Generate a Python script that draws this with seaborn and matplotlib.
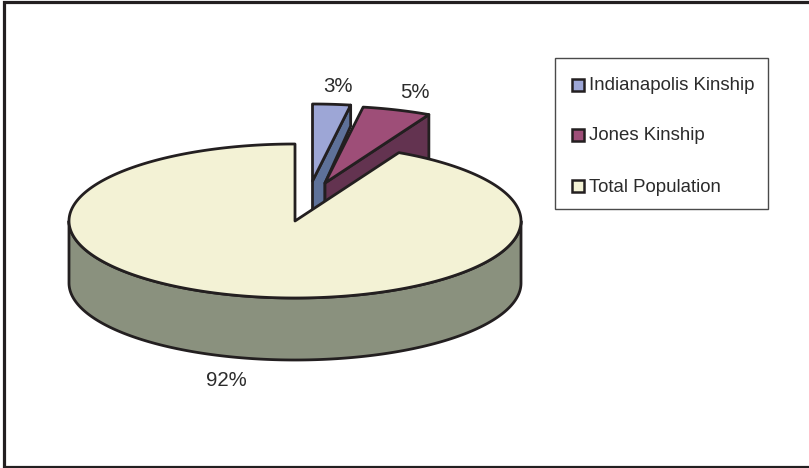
import numpy as np
import matplotlib
matplotlib.use("Agg")
import matplotlib.pyplot as plt
from matplotlib.patches import Polygon, Rectangle
import seaborn as sns

categories = ["Indianapolis Kinship", "Jones Kinship", "Total Population"]
values = [2.7, 4.9, 92.4]
top_colors = ["#9DA6D6", "#9E4E78", "#F3F2D5"]
side_colors = ["#5E7199", "#633350", "#8A917E"]

sns.set_theme(style="white")
plt.rcParams["font.family"] = ["Liberation Sans", "DejaVu Sans"]

W, H = 809, 468
fig = plt.figure(figsize=(W / 100, H / 100), dpi=100, facecolor="white")
ax = fig.add_axes([0, 0, 1, 1])
ax.set_xlim(0, W)
ax.set_ylim(H, 0)
ax.axis("off")

INK = "#231F20"
TEXT = "#2b2b2b"
A, B, DEPTH = 226, 77, 62
CENTER = (295, 221)
TIPS = [(312.5, 181), (325, 183), CENTER]
LW = 2.0


def rim(t0, t1, c, n=200):
    t = np.radians(np.linspace(t0, t1, n))
    return np.column_stack([c[0] + A * np.sin(t), c[1] - B * np.cos(t)])


def shape(pts, color, z):
    ax.add_patch(Polygon(pts, closed=True, fc=color, ec=INK, lw=LW, zorder=z, joinstyle="round"))


# frame: top, left and bottom only
ax.plot([W, 4.3, 4.3, W], [2.4, 2.4, 466.5, 466.5], color=INK, lw=2.3,
        solid_joinstyle="miter", solid_capstyle="butt", zorder=0)

ends = np.cumsum(values) / np.sum(values) * 360
starts = np.r_[0, ends[:-1]]

# blue slice
s, e = starts[0], ends[0]
tip = np.array(TIPS[0])
r = rim(s, e, tip)
side = np.vstack([[tip], [r[-1]], [r[-1] + (0, 21)], [(325, 183)], [(325, 222)], [tip + (0, 40)]])
shape(side, side_colors[0], 1)
shape(np.vstack([[tip], r]), top_colors[0], 2)

# pink slice
s, e = starts[1], ends[1]
tip = np.array(TIPS[1])
r = rim(s, e, tip)
side = np.vstack([[tip], [r[-1]], [r[-1] + (0, DEPTH)], [tip + (0, DEPTH)]])
shape(side, side_colors[1], 3)
shape(np.vstack([[tip], r]), top_colors[1], 4)

# main slice: wall then top
s, e = starts[2], ends[2]
tip = np.array(TIPS[2])
r = rim(s, e, tip, 600)
lower = rim(90, 270, tip, 300)
wall = np.vstack([lower, lower[::-1] + (0, DEPTH)])
shape(wall, side_colors[2], 5)
shape(np.vstack([[tip], r]), top_colors[2], 6)

# percentage labels
labels = [f"{v:.0f}%" for v in values]
for lab, pos in zip(labels, [(338, 87), (415, 92.5), (226.5, 380.5)]):
    ax.text(*pos, lab, ha="center", va="center", fontsize=14.7, color=TEXT, zorder=8)

# legend
ax.add_patch(Rectangle((555.5, 58), 213, 151, fc="white", ec="#4a4a4a", lw=1, zorder=7))
for name, col, y in zip(categories, top_colors, [85, 135, 186]):
    ax.add_patch(Rectangle((572, y - 6), 12, 12, fc=col, ec=INK, lw=1.8, zorder=8))
    ax.text(589.5, y + 1, name, ha="left", va="center", fontsize=13.4, color=TEXT, zorder=8)

fig.savefig("out.png", dpi=100, facecolor="white")
